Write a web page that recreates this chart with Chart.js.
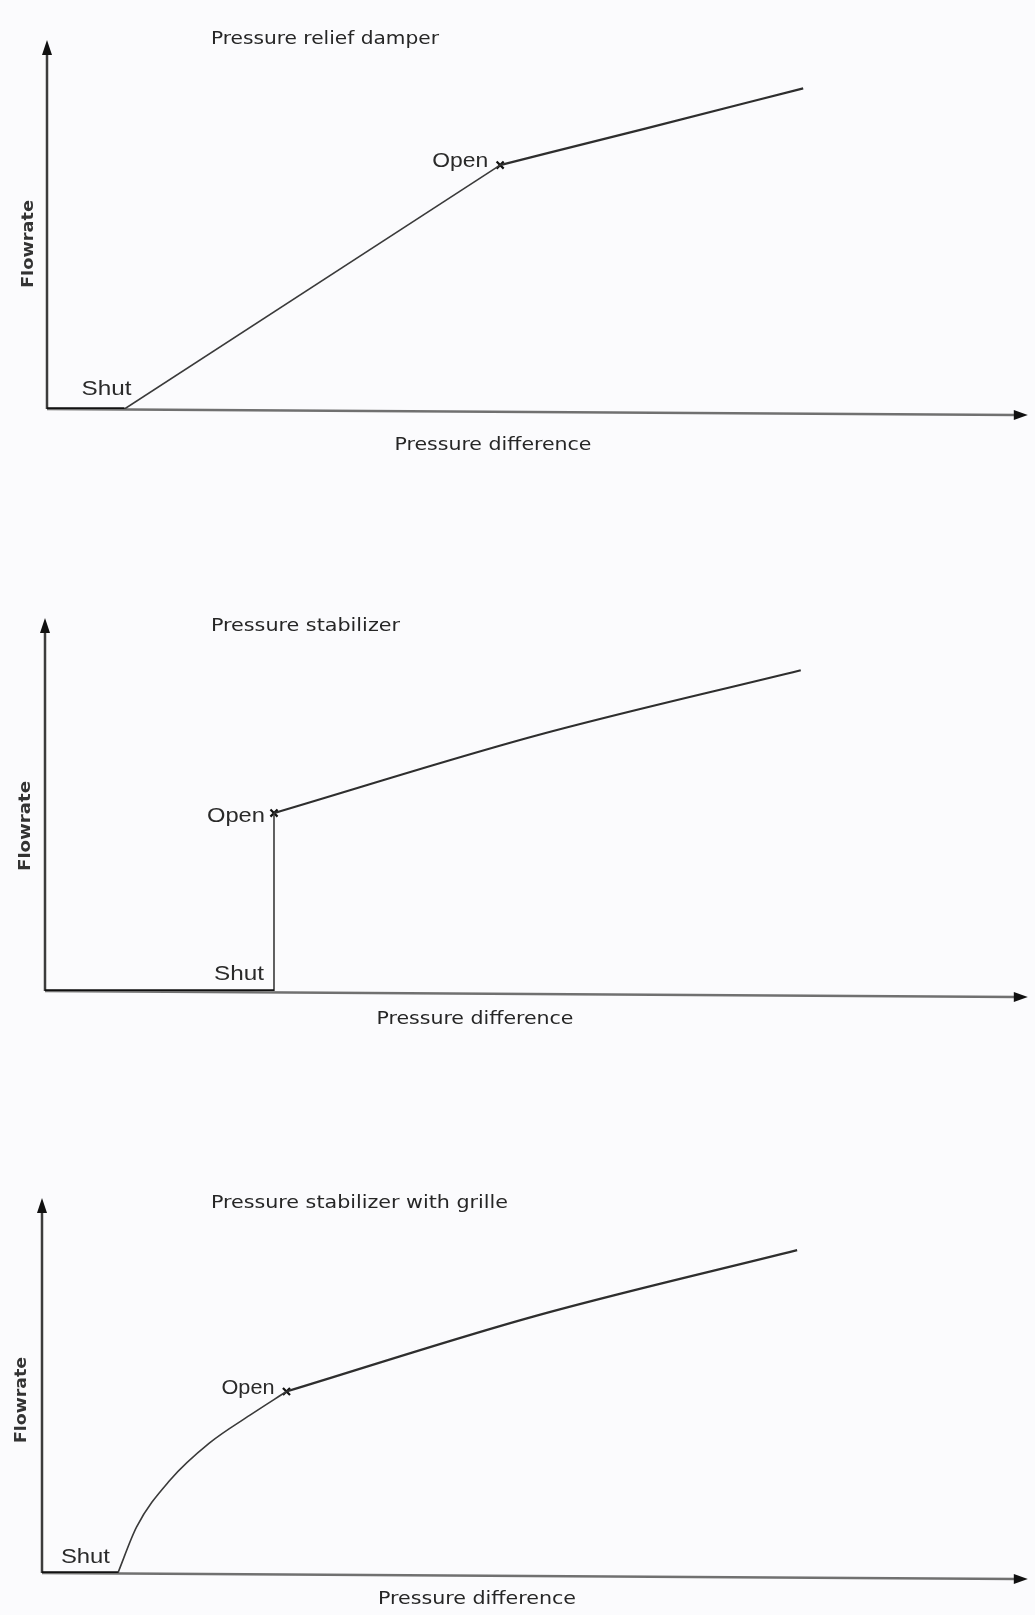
<!DOCTYPE html>
<html><head><meta charset="utf-8">
<script src="https://cdn.jsdelivr.net/npm/chart.js@4.4.1/dist/chart.umd.min.js"></script>
<style>
html,body{margin:0;padding:0;background:#fbfbfd;}
body{width:1035px;height:1615px;position:relative;overflow:hidden;}
canvas{position:absolute;left:0;}
</style></head><body>
<canvas id="c1" width="1035" height="540" style="top:0px"></canvas>
<canvas id="c2" width="1035" height="560" style="top:540px"></canvas>
<canvas id="c3" width="1035" height="515" style="top:1100px"></canvas>
<script>
// ---- data (arbitrary units: 0..100 on both axes) ----
const titles = ["Pressure relief damper", "Pressure stabilizer", "Pressure stabilizer with grille"];
const xAxisTitle = "Pressure difference";
const yAxisTitle = "Flowrate";
const shutLabel = "Shut";
const openLabel = "Open";

const reliefX = [0, 7.9, 46.2, 61.0, 77.1];
const reliefY = [0, 0, 66.1, 76.0, 86.9];
const reliefShutIdx = 1, reliefOpenIdx = 2;

const stabX = [0, 23.3, 23.3, 50.0, 76.9];
const stabY = [0, 0, 47.7, 68.5, 86.0];
const stabShutIdx = 1, stabOpenIdx = 2;

const grilleX = [0, 7.7, 9.6, 13.0, 17.0, 21.1, 24.8, 50.0, 76.6];
const grilleY = [0, 0, 12.3, 24.8, 34.7, 42.1, 48.4, 68.5, 86.1];
const grilleShutIdx = 1, grilleOpenIdx = 6;

// ---- layout / style (page coordinates) ----
const panels = [
  { id:'c1', top:0, h:540, pad:{left:47, top:40, right:4, bottom:131},
    xs:reliefX, ys:reliefY, shut:reliefShutIdx, open:reliefOpenIdx,
    title:{x:211, y:39, w:228}, xt:{cx:493, y:446, w:197}, yt:{cx:29, cy:244, len:88},
    shutL:{dx:7, dy:-20, w:50}, openL:{dx:-12, dy:-4, w:56} },
  { id:'c2', top:540, h:560, pad:{left:45, top:78, right:4, bottom:109},
    xs:stabX, ys:stabY, shut:stabShutIdx, open:stabOpenIdx,
    title:{x:211, y:626, w:189}, xt:{cx:475, y:1020, w:197}, yt:{cx:26, cy:826, len:90},
    shutL:{dx:-10, dy:-17, w:50}, openL:{dx:-9, dy:3, w:58} },
  { id:'c3', top:1100, h:515, pad:{left:42, top:98, right:4, bottom:42},
    xs:grilleX, ys:grilleY, shut:grilleShutIdx, open:grilleOpenIdx,
    title:{x:211, y:1203, w:297}, xt:{cx:477, y:1600, w:198}, yt:{cx:22, cy:1400, len:86},
    shutL:{dx:-8, dy:-16, w:49}, openL:{dx:-12, dy:-3, w:53} }
];

function pts(xs, ys, a, b){ const r=[]; for(let i=a;i<=b;i++) r.push({x:xs[i], y:ys[i]}); return r; }

function fitText(ctx, text, x, y, font, w, align, color){
  ctx.save();
  ctx.font = font;
  ctx.fillStyle = color || '#333';
  ctx.textBaseline = 'middle';
  const m = ctx.measureText(text).width;
  const s = w / m;
  let left = x;
  if (align === 'right') left = x - w;
  else if (align === 'center') left = x - w/2;
  ctx.translate(left, y);
  ctx.scale(s, 1);
  ctx.textAlign = 'left';
  ctx.fillText(text, 0, 0);
  ctx.restore();
}

const condFont = (sz) => `${sz}px "Liberation Sans Narrow", "DejaVu Sans Condensed", "Liberation Sans", sans-serif`;
const plainFont = (sz) => `${sz}px "Liberation Sans", "DejaVu Sans", sans-serif`;

panels.forEach((p, k) => {
  const decor = {
    id: 'decor' + k,
    beforeDatasetsDraw(chart){
      const ctx = chart.ctx, a = chart.chartArea;
      const skew = 6;
      ctx.save();
      // x axis
      ctx.strokeStyle = '#707070'; ctx.lineWidth = 2.5;
      ctx.beginPath(); ctx.moveTo(a.left, a.bottom); ctx.lineTo(a.right - 12, a.bottom + skew*(a.right-12-a.left)/(a.right-a.left)); ctx.stroke();
      ctx.fillStyle = '#111';
      ctx.beginPath(); ctx.moveTo(a.right, a.bottom + skew); ctx.lineTo(a.right - 14, a.bottom + skew - 5); ctx.lineTo(a.right - 14, a.bottom + skew + 5); ctx.closePath(); ctx.fill();
      // y axis
      ctx.strokeStyle = '#3c3c3c'; ctx.lineWidth = 2.5;
      ctx.beginPath(); ctx.moveTo(a.left, a.bottom); ctx.lineTo(a.left, a.top + 12); ctx.stroke();
      ctx.beginPath(); ctx.moveTo(a.left, a.top); ctx.lineTo(a.left - 5, a.top + 15); ctx.lineTo(a.left + 5, a.top + 15); ctx.closePath(); ctx.fill();
      ctx.restore();
    },
    afterDatasetsDraw(chart){
      const ctx = chart.ctx, xs = chart.scales.x, ys = chart.scales.y;
      const T = p.top;
      fitText(ctx, titles[k], p.title.x, p.title.y - T, condFont(18), p.title.w, 'left', '#262626');
      fitText(ctx, xAxisTitle, p.xt.cx, p.xt.y - T, condFont(17), p.xt.w, 'center', '#262626');
      // y title rotated
      ctx.save();
      ctx.translate(p.yt.cx, p.yt.cy - T);
      ctx.rotate(-Math.PI/2);
      fitText(ctx, yAxisTitle, 0, 0, 'bold 16px "DejaVu Sans", sans-serif', p.yt.len, 'center', '#333');
      ctx.restore();
      // Shut / Open labels anchored to data points
      const sx = xs.getPixelForValue(p.xs[p.shut]), sy = ys.getPixelForValue(p.ys[p.shut]);
      fitText(ctx, shutLabel, sx + p.shutL.dx, sy + p.shutL.dy, plainFont(20), p.shutL.w, 'right', '#2a2a2a');
      const ox = xs.getPixelForValue(p.xs[p.open]), oy = ys.getPixelForValue(p.ys[p.open]);
      fitText(ctx, openLabel, ox + p.openL.dx, oy + p.openL.dy, plainFont(20), p.openL.w, 'right', '#2a2a2a');
    }
  };

  const n = p.xs.length - 1;
  new Chart(document.getElementById(p.id), {
    type: 'line',
    data: { datasets: [
      { data: pts(p.xs, p.ys, 0, p.shut), borderColor:'#111', borderWidth:3.5, pointRadius:0, tension:0 },
      { data: pts(p.xs, p.ys, p.shut, p.open), borderColor:'#3a3a3a', borderWidth:1.6, pointRadius:0,
        cubicInterpolationMode: (k===2 ? 'monotone' : 'default'), tension:0 },
      { data: pts(p.xs, p.ys, p.open, n), borderColor:'#2e2e2e', borderWidth:2.2, pointRadius:0,
        cubicInterpolationMode:'monotone' },
      { data: [{x:p.xs[p.open], y:p.ys[p.open]}], showLine:false, pointStyle:'crossRot', pointRadius:5, borderColor:'#111', borderWidth:2.2 }
    ]},
    options: {
      responsive:false, animation:false, events:[],
      layout:{ padding:p.pad },
      plugins:{ legend:{display:false}, tooltip:{enabled:false}, title:{display:false} },
      scales:{
        x:{ type:'linear', min:0, max:100, display:false },
        y:{ type:'linear', min:0, max:100, display:false }
      }
    },
    plugins:[decor]
  });
});
</script>
</body></html>
